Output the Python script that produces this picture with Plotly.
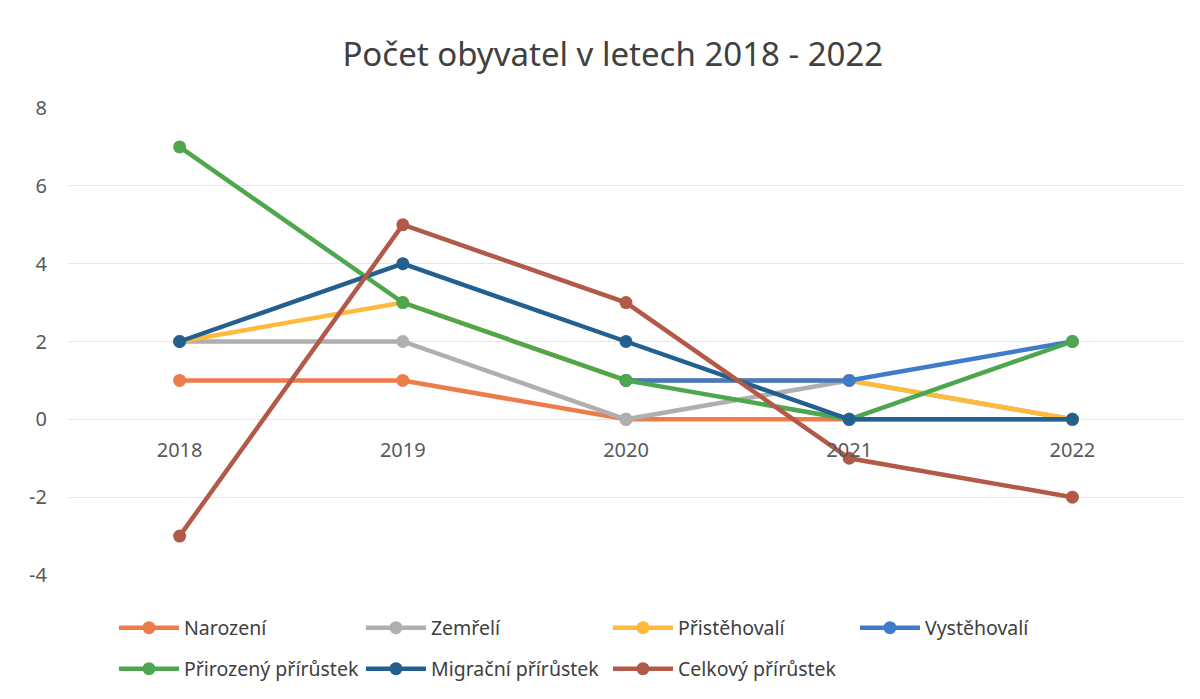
import plotly.graph_objects as go

years = ["2018", "2019", "2020", "2021", "2022"]
narozeni = [1, 1, 0, 0, 0]
zemreli = [2, 2, 0, 1, 0]
pristehovali = [2, 3, 1, 1, 0]
vystehovali = [None, None, 1, 1, 2]
prirozeny = [7, 3, 1, 0, 2]
migracni = [2, 4, 2, 0, 0]
celkovy = [-3, 5, 3, -1, -2]

y_ticks = [-4, -2, 0, 2, 4, 6, 8]
y_tick_labels = ["-4", "-2", "0", "2", "4", "6", "8"]

series = [
    ("Narození", narozeni, "#EE7B4A", "legend"),
    ("Zemřelí", zemreli, "#AFAFAF", "legend"),
    ("Přistěhovalí", pristehovali, "#FDBA3C", "legend"),
    ("Vystěhovalí", vystehovali, "#3F7BCB", "legend"),
    ("Přirozený přírůstek", prirozeny, "#4EA64E", "legend2"),
    ("Migrační přírůstek", migracni, "#23608F", "legend2"),
    ("Celkový přírůstek", celkovy, "#B25A47", "legend2"),
]

fig = go.Figure()
for name, vals, color, lg in series:
    fig.add_trace(go.Scatter(
        x=years, y=vals, name=name, mode="lines+markers",
        line=dict(color=color, width=4.5),
        marker=dict(color=color, size=13),
        connectgaps=False, legend=lg,
    ))

FONT = "Noto Sans"
legend_common = dict(orientation="h", xanchor="left", yanchor="middle",
                     xref="container", yref="container",
                     entrywidth=172, entrywidthmode="pixels",
                     font=dict(family=FONT, size=19.5, color="#404040"),
                     itemwidth=60, bgcolor="rgba(0,0,0,0)")
fig.update_layout(
    width=1200, height=699,
    paper_bgcolor="white", plot_bgcolor="white",
    margin=dict(l=60, r=24, t=100, b=132, autoexpand=False),
    title=dict(text="Počet obyvatel v letech 2018 - 2022", x=0.504, xanchor="center",
               y=0.933, yanchor="middle",
               font=dict(family=FONT, size=33, color="#404040")),
    font=dict(family=FONT, color="#595959"),
    showlegend=True,
    legend=dict(x=0.0883, y=0.113, **legend_common),
    legend2=dict(x=0.0883, y=0.0544, **legend_common),
    xaxis=dict(type="category", range=[-0.5, 4.5], showgrid=False, showline=False,
               zeroline=False, anchor="free", position=1/3, ticks="",
               ticklabelstandoff=17,
               tickfont=dict(family=FONT, size=20, color="#595959")),
    yaxis=dict(range=[-4, 8], tickvals=y_ticks, ticktext=y_tick_labels,
               showgrid=True, gridcolor="#E6E6E6",
               gridwidth=1, zeroline=True, zerolinecolor="#E6E6E6", zerolinewidth=1,
               showline=False, ticks="", ticklabelstandoff=20,
               tickfont=dict(family=FONT, size=20, color="#595959")),
)

fig.write_html("out.html")
